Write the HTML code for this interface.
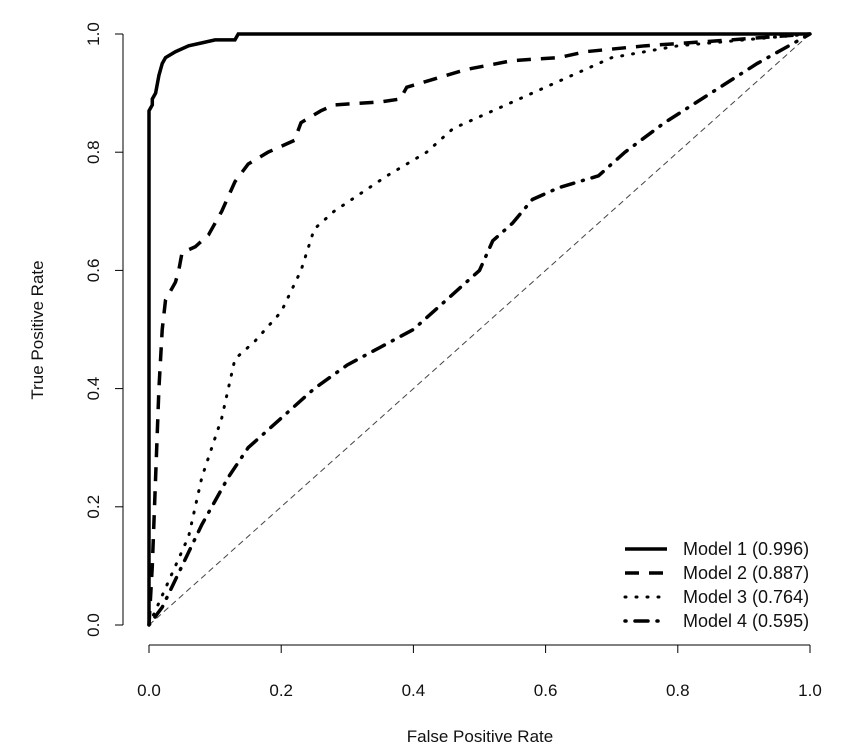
<!DOCTYPE html>
<html><head><meta charset="utf-8"><style>body{margin:0;background:#fff}svg{display:block;font-family:"Liberation Sans",sans-serif}</style></head>
<body>
<svg width="850" height="750" id="chart"></svg>
<script>
const xTicks=[0,0.2,0.4,0.6,0.8,1.0];
const yTicks=[0,0.2,0.4,0.6,0.8,1.0];
const seriesNames=["Model 1 (0.996)","Model 2 (0.887)","Model 3 (0.764)","Model 4 (0.595)"];
const m1fpr=[0,0,0.005,0.005,0.01,0.015,0.02,0.025,0.04,0.06,0.08,0.1,0.13,0.135,1];
const m1tpr=[0,0.87,0.88,0.89,0.9,0.93,0.95,0.96,0.97,0.98,0.985,0.99,0.99,1,1];
const m2fpr=[0,0.005,0.01,0.015,0.02,0.025,0.04,0.045,0.05,0.07,0.09,0.11,0.13,0.15,0.18,0.22,0.23,0.26,0.28,0.35,0.38,0.39,0.45,0.48,0.55,0.62,0.66,0.75,0.88,1];
const m2tpr=[0,0.1,0.25,0.4,0.5,0.55,0.58,0.6,0.63,0.64,0.66,0.7,0.75,0.78,0.8,0.82,0.85,0.87,0.88,0.885,0.89,0.91,0.93,0.94,0.955,0.96,0.97,0.98,0.99,1];
const m3fpr=[0,0.02,0.04,0.06,0.08,0.11,0.13,0.16,0.2,0.23,0.25,0.28,0.32,0.36,0.42,0.46,0.52,0.6,0.7,0.8,1];
const m3tpr=[0,0.05,0.1,0.15,0.25,0.35,0.45,0.48,0.53,0.6,0.67,0.7,0.73,0.76,0.8,0.84,0.87,0.91,0.96,0.98,1];
const m4fpr=[0,0.02,0.05,0.08,0.12,0.15,0.2,0.25,0.3,0.35,0.4,0.45,0.5,0.52,0.55,0.58,0.62,0.68,0.72,0.78,0.85,0.92,1];
const m4tpr=[0,0.03,0.1,0.17,0.25,0.3,0.35,0.4,0.44,0.47,0.5,0.55,0.6,0.65,0.68,0.72,0.74,0.76,0.8,0.85,0.9,0.95,1];
const X0=149,X1=810,Y0=625,Y1=34;
const sx=v=>X0+v*(X1-X0), sy=v=>Y0-v*(Y0-Y1);
const svg=document.getElementById('chart');const NS='http://www.w3.org/2000/svg';
function mk(t,a,txt){const e=document.createElementNS(NS,t);for(const k in a)e.setAttribute(k,a[k]);if(txt!==undefined)e.textContent=txt;svg.appendChild(e);return e;}
let e;
e=mk('line',{x1:sx(0),y1:645,x2:sx(1),y2:645,stroke:'#000','stroke-width':1});


e=mk('line',{x1:123,y1:sy(0),x2:123,y2:sy(1),stroke:'#000','stroke-width':1});


xTicks.forEach(t=>{
 mk('line',{x1:sx(t),y1:645,x2:sx(t),y2:653,stroke:'#000'});
 e=mk('text',{x:sx(t),y:696,'text-anchor':'middle','font-size':17,fill:'#111'},t.toFixed(1));
 
 
});
yTicks.forEach(t=>{
 mk('line',{x1:115,y1:sy(t),x2:123,y2:sy(t),stroke:'#000'});
 e=mk('text',{x:0,y:0,'text-anchor':'middle','font-size':17,fill:'#111',transform:`translate(99,${sy(t)}) rotate(-90)`},t.toFixed(1));
 
 
});
e=mk('text',{x:480,y:742,'text-anchor':'middle','font-size':17,fill:'#111'},'False Positive Rate');


e=mk('text',{x:0,y:0,'text-anchor':'middle','font-size':17,fill:'#111',transform:'translate(43,330) rotate(-90)'},'True Positive Rate');


e=mk('line',{x1:sx(0),y1:sy(0),x2:sx(1),y2:sy(1),stroke:'#444','stroke-width':1,'stroke-dasharray':'6,4'});


const dashes=['none','14,10','1,10','1,9,13,9'];
const data=[[m1fpr,m1tpr],[m2fpr,m2tpr],[m3fpr,m3tpr],[m4fpr,m4tpr]];
data.forEach((d,i)=>{
 const pts=d[0].map((f,j)=>sx(f)+','+sy(d[1][j])).join(' ');
 const a={points:pts,fill:'none',stroke:'#000','stroke-width':i==2?3:3.5,'stroke-linecap':i>=2?'round':'butt'};
 if(dashes[i]!=='none')a['stroke-dasharray']=dashes[i];
 e=mk('polyline',a);
 
 
 const ly=549+i*24;
 const la={x1:625,y1:ly,x2:667,y2:ly,stroke:'#000','stroke-width':i==2?3:3.5,'stroke-linecap':i>=2?'round':'butt'};
 if(dashes[i]!=='none')la['stroke-dasharray']=dashes[i];
 e=mk('line',la);
 
 
 e=mk('text',{x:683,y:ly+6,'font-size':18,fill:'#111'},seriesNames[i]);
 
 
});
</script>
</body></html>
